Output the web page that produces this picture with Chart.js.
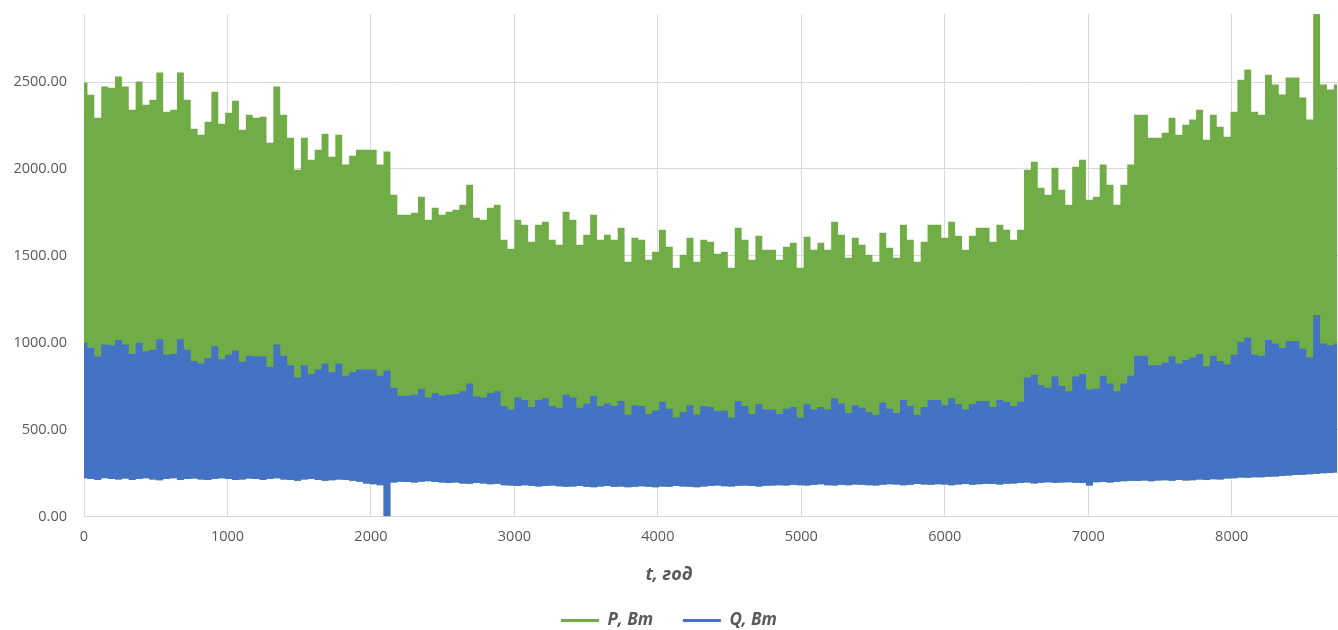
<!DOCTYPE html>
<html>
<head>
<meta charset="utf-8">
<script src="https://cdn.jsdelivr.net/npm/chart.js@4.4.1/dist/chart.umd.min.js"></script>
<style>
  html, body { margin: 0; padding: 0; background: #fff; }
  #wrap { width: 1338px; height: 630px; }
</style>
</head>
<body>
<div id="wrap"><canvas id="chart" width="1338" height="630"></canvas></div>
<script>
// ── Data (envelopes, one sample every 48 h) ──
const STEP_H = 48;

const pTop = [
  2497, 2427, 2295, 2474, 2468, 2532, 2474, 2341, 2503, 2370,
  2399, 2555, 2330, 2341, 2555, 2399, 2232, 2197, 2272, 2445,
  2260, 2324, 2393, 2226, 2312, 2295, 2301, 2151, 2474, 2312,
  2180, 1996, 2180, 2053, 2111, 2203, 2070, 2197, 2025, 2076,
  2111, 2111, 2111, 2025, 2100, 1852, 1737, 1737, 1748, 1840,
  1708, 1777, 1737, 1754, 1765, 1794, 1909, 1719, 1708, 1777,
  1794, 1593, 1541, 1708, 1679, 1581, 1679, 1696, 1593, 1564,
  1754, 1708, 1564, 1621, 1737, 1593, 1621, 1593, 1662, 1466,
  1604, 1593, 1477, 1523, 1650, 1552, 1431, 1506, 1604, 1466,
  1593, 1581, 1512, 1523, 1431, 1662, 1593, 1477, 1615, 1535,
  1535, 1477, 1552, 1575, 1431, 1610, 1535, 1575, 1535, 1696,
  1621, 1489, 1604, 1564, 1506, 1466, 1633, 1546, 1489, 1679,
  1593, 1466, 1581, 1679, 1679, 1604, 1696, 1615, 1535, 1615,
  1662, 1662, 1581, 1679, 1650, 1593, 1650, 1996, 2042, 1892,
  1852, 2007, 1881, 1794, 2013, 2053, 1823, 1840, 2025, 1909,
  1794, 1909, 2025, 2312, 2312, 2180, 2180, 2209, 2295, 2197,
  2255, 2284, 2341, 2168, 2312, 2243, 2186, 2330, 2514, 2572,
  2330, 2312, 2543, 2486, 2428, 2526, 2526, 2411, 2284, 2892,
  2486, 2457, 2486
];

const qTop = [
  1000, 970, 920, 990, 985, 1015, 990, 935, 1000, 950,
  960, 1020, 930, 935, 1020, 960, 895, 880, 910, 980,
  905, 930, 955, 890, 925, 920, 920, 860, 990, 925,
  870, 800, 870, 820, 845, 880, 830, 880, 810, 830,
  845, 845, 845, 810, 840, 740, 695, 695, 700, 735,
  685, 710, 695, 700, 705, 720, 765, 690, 685, 710,
  720, 635, 615, 685, 670, 630, 670, 680, 635, 625,
  700, 685, 625, 650, 695, 635, 650, 635, 665, 585,
  640, 635, 590, 610, 660, 620, 570, 600, 640, 585,
  635, 630, 605, 610, 570, 665, 635, 590, 645, 615,
  615, 590, 620, 630, 570, 645, 615, 630, 615, 680,
  650, 595, 640, 625, 600, 585, 655, 620, 595, 670,
  635, 585, 630, 670, 670, 640, 680, 645, 615, 645,
  665, 665, 630, 670, 660, 635, 660, 800, 815, 755,
  740, 805, 750, 720, 805, 820, 730, 735, 810, 765,
  720, 765, 810, 925, 925, 870, 870, 885, 920, 880,
  900, 915, 935, 865, 925, 895, 875, 930, 1005, 1030,
  930, 925, 1015, 995, 970, 1010, 1010, 965, 915, 1160,
  995, 985, 995
];

const qBottom = [
  220, 215, 210, 220, 215, 212, 218, 210, 215, 220,
  212, 208, 215, 220, 210, 215, 218, 212, 210, 215,
  220, 215, 210, 212, 218, 215, 210, 215, 220, 212,
  210, 205, 212, 215, 210, 205, 208, 212, 210, 205,
  200, 190, 185, 180, 0, 195, 200, 198, 195, 200,
  202, 198, 195, 192, 195, 190, 188, 192, 190, 185,
  188, 180, 178, 175, 180, 176, 172, 175, 178, 174,
  170, 172, 175, 170, 168, 172, 175, 170, 172, 168,
  170, 174, 170, 168, 172, 170, 175, 172, 170, 168,
  172, 175, 178, 174, 172, 176, 178, 175, 172, 176,
  178, 180, 178, 182, 180, 178, 182, 185, 180, 178,
  182, 180, 184, 182, 180, 178, 182, 185, 183, 180,
  182, 186, 184, 182, 185, 183, 180, 184, 186, 182,
  185, 188, 186, 184, 188, 190, 192, 195, 190, 193,
  196, 194, 195, 196, 194, 192, 178, 196, 198, 195,
  200, 202, 205, 204, 206, 203, 207, 208, 205, 210,
  206, 208, 212, 210, 214, 212, 218, 220, 224, 222,
  226, 225, 228, 230, 232, 235, 238, 240, 242, 245,
  248, 250, 252
];

const xTicks = [0, 1000, 2000, 3000, 4000, 5000, 6000, 7000, 8000];
const yTicks = [0, 500, 1000, 1500, 2000, 2500];

// ── Styling ──
const GREEN = '#70AD47';
const BLUE = '#4472C4';
const TEXT = '#595959';
const GRID = '#D9D9D9';
const FONT = "'Open Sans', 'Noto Sans', sans-serif";

const hours = pTop.map((_, i) => i * STEP_H);
const toPoints = arr => arr.map((v, i) => ({ x: hours[i], y: v }));

new Chart(document.getElementById('chart'), {
  type: 'line',
  data: {
    datasets: [
      { label: 'Q, Вт', data: toPoints(qTop), backgroundColor: BLUE, borderColor: BLUE,
        borderWidth: 0, pointRadius: 0, stepped: 'middle', fill: 1, order: 0 },
      { label: 'Q min', data: toPoints(qBottom), backgroundColor: BLUE, borderColor: 'rgba(0,0,0,0)',
        borderWidth: 0, pointRadius: 0, stepped: 'middle', fill: false, order: 1 },
      { label: 'P, Вт', data: toPoints(pTop), backgroundColor: GREEN, borderColor: GREEN,
        borderWidth: 0, pointRadius: 0, stepped: 'middle', fill: 1, order: 2 }
    ]
  },
  options: {
    responsive: false,
    animation: false,
    events: [],
    layout: { padding: { left: 0, right: 0, top: 14, bottom: -9 } },
    scales: {
      x: {
        type: 'linear',
        min: 0,
        max: 8741,
        afterBuildTicks: axis => { axis.ticks = xTicks.map(v => ({ value: v })); },
        afterFit: axis => { axis.height = 30; },
        grid: { color: GRID, drawTicks: false },
        border: { color: GRID },
        ticks: {
          padding: 12, color: TEXT, font: { family: FONT, size: 14.5 },
          callback: v => String(v)
        }
      },
      y: {
        min: 0,
        max: 2892,
        afterBuildTicks: axis => { axis.ticks = yTicks.map(v => ({ value: v })); },
        afterFit: axis => {
          axis.width = 84;
          axis.paddingTop = 0;
          axis.paddingBottom = 0;
        },
        grid: { color: GRID, drawTicks: false },
        border: { display: false },
        ticks: {
          padding: 17, color: TEXT, font: { family: FONT, size: 14.5 },
          callback: v => v.toFixed(2)
        }
      }
    },
    plugins: {
      tooltip: { enabled: false },
      title: {
        display: true,
        position: 'bottom',
        weight: 500,
        text: 't, год',
        color: TEXT,
        font: { family: FONT, size: 18, weight: 'bold', style: 'italic' },
        padding: { top: 18, bottom: 16 }
      },
      legend: {
        position: 'bottom',
        labels: {
          boxWidth: 38,
          boxHeight: 3,
          padding: 10,
          color: TEXT,
          font: { family: FONT, size: 17, weight: 'bold', style: 'italic' },
          generateLabels: () => [
            { text: 'P, Вт\u2003\u2006', fillStyle: GREEN, strokeStyle: GREEN, lineWidth: 0, hidden: false, datasetIndex: 2, fontColor: TEXT },
            { text: 'Q, Вт', fillStyle: BLUE, strokeStyle: BLUE, lineWidth: 0, hidden: false, datasetIndex: 0, fontColor: TEXT }
          ]
        }
      }
    }
  }
});
</script>
</body>
</html>
